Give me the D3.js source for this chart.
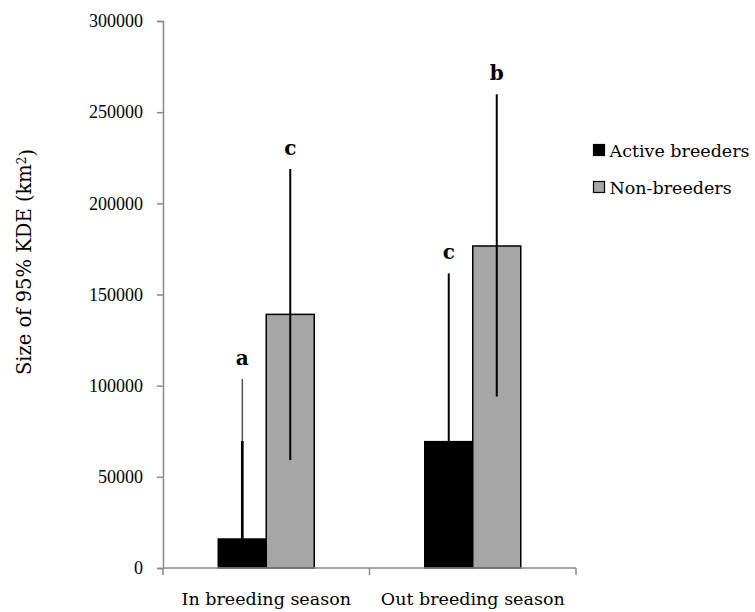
<!DOCTYPE html>
<head>
  <meta charset="utf-8">
  <script src="https://d3js.org/d3.v7.min.js"></script>
  <style>
    body { margin: 0; background: #fff; }
    svg { display: block; background: #fff; font-family: "DejaVu Serif", serif; }
  </style>
</head>
<body>
  <svg id="chart" width="755" height="612"></svg>
  <script>
    // data
    var seasons = ["In breeding season", "Out breeding season"];
    var groups = ["Active breeders", "Non-breeders"];
    var activeMean = [15900, 69300];
    var activeUpper = [103700, 161600];
    var activeThick = [69600, null];   // heavier part of the whisker in the original
    var nonMean = [139100, 176600];
    var nonLower = [59200, 94000];
    var nonUpper = [218800, 259800];
    var activeLetters = ["a", "c"];
    var nonLetters = ["c", "b"];
    var yTicks = [0, 50000, 100000, 150000, 200000, 250000, 300000];
    var colors = ["#000000", "#a6a6a6"];

    var svg = d3.select("#chart"),
      mLeft = 163, mRight = 576, mTop = 21, mBottom = 568;

    var y = d3.scaleLinear().domain([0, 300000]).range([mBottom, mTop]);
    var x0 = d3.scaleBand().domain(seasons).range([mLeft, mRight]).padding(0);
    var bw = x0.bandwidth();
    var x1 = d3.scaleBand().domain(groups).range([bw / 2 - 48, bw / 2 + 48]).padding(0);

    // rows built from the arrays
    var rows = [];
    seasons.forEach(function (s, i) {
      rows.push({ season: s, group: groups[0], mean: activeMean[i], lo: activeMean[i], hi: activeUpper[i], thick: activeThick[i], letter: activeLetters[i], fill: colors[0] });
      rows.push({ season: s, group: groups[1], mean: nonMean[i], lo: nonLower[i], hi: nonUpper[i], thick: null, letter: nonLetters[i], fill: colors[1] });
    });
    function cx(d) { return x0(d.season) + x1(d.group) + x1.bandwidth() / 2; }

    // y axis
    var yAxis = d3.axisLeft(y).tickValues(yTicks).tickSize(6).tickPadding(14).tickFormat(d3.format("d"));
    var gy = svg.append("g").attr("transform", "translate(" + mLeft + ",0)").call(yAxis);
    gy.select(".domain").attr("stroke", "#8a8a8a").attr("stroke-width", 1.5);
    gy.selectAll(".tick line").attr("stroke", "#8a8a8a").attr("stroke-width", 1.5);
    gy.selectAll(".tick text").attr("fill", "#000").style("font-size", "18px")
      .style("font-family", "Liberation Serif, serif");

    // bars
    svg.append("g").selectAll("rect").data(rows).enter().append("rect")
      .attr("x", function (d) { return x0(d.season) + x1(d.group); })
      .attr("y", function (d) { return y(d.mean); })
      .attr("width", x1.bandwidth())
      .attr("height", function (d) { return y(0) - y(d.mean); })
      .attr("fill", function (d) { return d.fill; })
      .attr("stroke", "#000")
      .attr("stroke-width", 1.5);

    // error lines
    svg.append("g").selectAll("line").data(rows).enter().append("line")
      .attr("x1", cx).attr("x2", cx)
      .attr("y1", function (d) { return y(d.lo); })
      .attr("y2", function (d) { return y(d.hi); })
      .attr("stroke", "#000").attr("stroke-width", 2);
    var thickRows = rows.filter(function (d) { return d.thick != null; });
    svg.append("g").selectAll("line").data(thickRows).enter().append("line")
      .attr("x1", cx).attr("x2", cx)
      .attr("y1", function (d) { return y(d.mean); })
      .attr("y2", function (d) { return y(d.thick); })
      .attr("stroke", "#000").attr("stroke-width", 2.6);
    // the upper part of that one whisker is drawn thinner in the original
    svg.append("g").selectAll("line").data(thickRows).enter().append("line")
      .attr("x1", cx).attr("x2", cx)
      .attr("y1", function (d) { return y(d.thick); })
      .attr("y2", function (d) { return y(d.hi); })
      .attr("stroke", "#fff").attr("stroke-width", 3);
    svg.append("g").selectAll("line").data(thickRows).enter().append("line")
      .attr("x1", cx).attr("x2", cx)
      .attr("y1", function (d) { return y(d.thick); })
      .attr("y2", function (d) { return y(d.hi); })
      .attr("stroke", "#333").attr("stroke-width", 1.2);

    // significance letters
    svg.append("g").selectAll("text").data(rows).enter().append("text")
      .attr("x", cx)
      .attr("y", function (d) { return y(d.hi) - 21; })
      .attr("dy", "0.35em")
      .attr("text-anchor", "middle")
      .style("font-size", "20px")
      .style("font-weight", "bold")
      .text(function (d) { return d.letter; });

    // x axis
    var gx = svg.append("g").attr("transform", "translate(0," + mBottom + ")");
    gx.append("line").attr("x1", mLeft).attr("x2", mRight)
      .attr("stroke", "#8a8a8a").attr("stroke-width", 1.5);
    var bounds = [mLeft].concat(seasons.map(function (s) { return x0(s) + bw; }));
    gx.selectAll(".tk").data(bounds).enter().append("line")
      .attr("x1", function (d) { return d; }).attr("x2", function (d) { return d; })
      .attr("y1", 0).attr("y2", 7)
      .attr("stroke", "#8a8a8a").attr("stroke-width", 1.5);
    gx.selectAll("text").data(seasons).enter().append("text")
      .attr("x", function (d) { return x0(d) + bw / 2; })
      .attr("y", 37)
      .attr("text-anchor", "middle")
      .style("font-size", "17.5px")
      .text(function (d) { return d; });

    // y label
    var yl = svg.append("text")
      .attr("transform", "translate(31,262) rotate(-90)")
      .attr("text-anchor", "middle")
      .style("font-size", "19.5px");
    yl.append("tspan").text("Size of 95% KDE (km");
    yl.append("tspan").attr("dy", "-0.45em").style("font-size", "12px").text("2");
    yl.append("tspan").attr("dy", "0.45em").text(")");

    // legend
    var lg = svg.append("g").attr("transform", "translate(593,0)");
    var legRows = lg.selectAll("g").data(groups).enter().append("g")
      .attr("transform", function (d, i) { return "translate(0," + (150 + i * 37) + ")"; });
    legRows.append("rect")
      .attr("x", 0.5).attr("y", -5.5).attr("width", 11).attr("height", 11)
      .attr("fill", function (d, i) { return colors[i]; })
      .attr("stroke", "#000").attr("stroke-width", 1.2);
    legRows.append("text")
      .attr("x", 16.5).attr("y", 6.5)
      .style("font-size", "17.5px")
      .text(function (d) { return d; });
  </script>
</body>
</html>
